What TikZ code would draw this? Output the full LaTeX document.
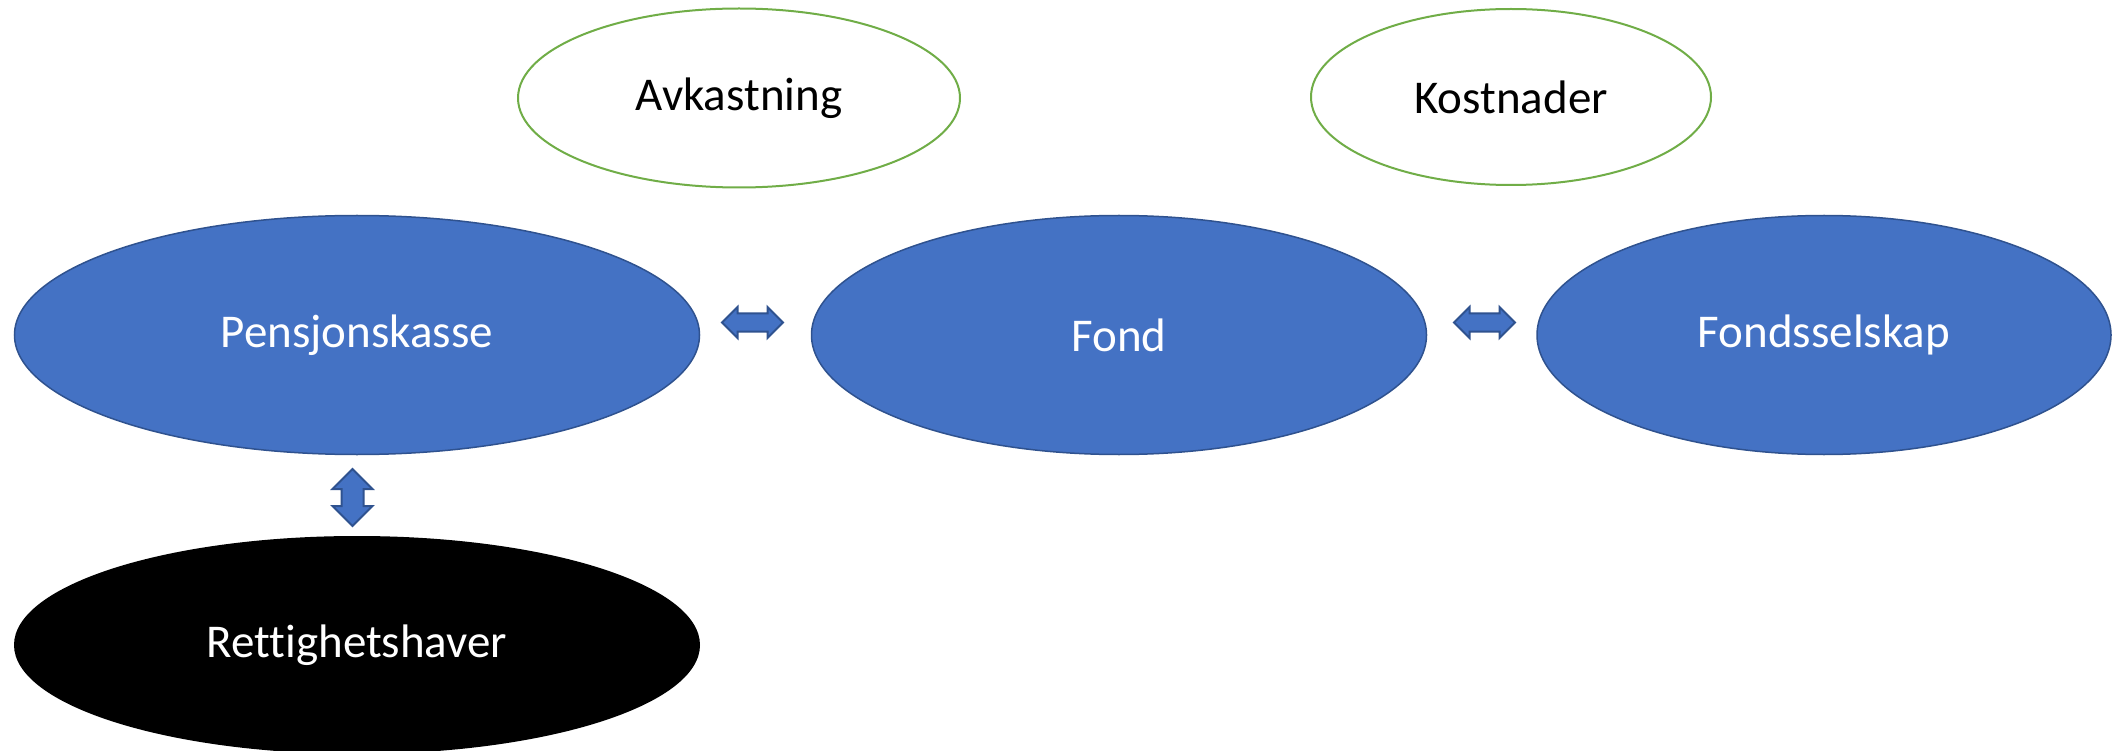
\documentclass[tikz,border=0pt]{standalone}
\usepackage{fontspec}
\setmainfont{Carlito}[Ligatures=NoCommon]
\usetikzlibrary{shapes.geometric,shapes.arrows}
\definecolor{blaa}{HTML}{4472C4}
\definecolor{moerkblaa}{HTML}{2F528F}
\definecolor{groenn}{HTML}{70AD47}
\begin{document}
\begin{tikzpicture}[x=1pt,y=-1pt,
  tekst/.style={font=\fontsize{47}{56}\selectfont},
  hoved/.style={ellipse, tekst, draw=moerkblaa, line width=1.5pt, fill=blaa, text=white, inner sep=0pt, minimum height=239pt},
  kant/.style={ellipse, tekst, draw=groenn, line width=2pt, fill=white, inner sep=0pt},
  pil/.style={double arrow, draw=moerkblaa, line width=2pt, fill=blaa, double arrow tip angle=90}]
%\draw[step=100,gray,very thin] (0,0) grid (2112,751);
\useasboundingbox (0,0) rectangle (2112,751);
\clip (0,0) rectangle (2112,751);
\node[kant, minimum width=442pt, minimum height=179pt] (avk) at (739,98) {Avkastning};
\node[kant, minimum width=400pt, minimum height=176pt] (kost) at (1511,97) {Kostnader};
\node[hoved, minimum width=685pt] (pkasse) at (357,335) {Pensjonskasse};
\node[hoved, minimum width=615pt] (fond) at (1119,335) {Fond};
\node[hoved, minimum width=574pt] (fselskap) at (1824,335) {Fondsselskap};
\node[ellipse, tekst, fill=black, text=white, inner sep=0pt, minimum width=686pt, minimum height=218pt] (rhaver) at (357,645) {Rettighetshaver};
\node[pil, inner xsep=0pt, inner ysep=8pt, minimum height=61pt, double arrow head extend=6.5pt] (pil1) at (752.5,322.5) {};
\node[pil, inner xsep=0pt, inner ysep=8pt, minimum height=61pt, double arrow head extend=6.5pt] (pil2) at (1484.5,322.5) {};
\node[pil, rotate=90, inner xsep=0pt, inner ysep=10pt, minimum height=57pt, double arrow head extend=9pt] (pil3) at (352.5,497.5) {};
\end{tikzpicture}
\end{document}
